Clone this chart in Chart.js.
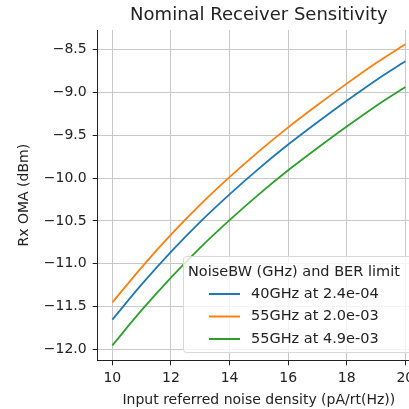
<!DOCTYPE html>
<html lang="en">
<head>
    <meta charset="UTF-8">
    <title>Nominal Receiver Sensitivity</title>
    <script src="https://cdn.jsdelivr.net/npm/chart.js"></script>
    <style>
        html, body { margin: 0; padding: 0; background: #fff; overflow: hidden; }
        #wrap { width: 432px; height: 409px; }
    </style>
</head>
<body>
    <div id="wrap"><canvas id="sens-chart"></canvas></div>

    <script>
        // noise density (pA/rt(Hz))
        const noiseDensity = [10, 11, 12, 13, 14, 15, 16, 17, 18, 19, 20];

        // Rx OMA (dBm)
        const oma40g24 = [-11.65, -11.24, -10.86, -10.51, -10.19, -9.89, -9.61, -9.35, -9.10, -8.86, -8.64];
        const oma55g20 = [-11.45, -11.04, -10.66, -10.31, -9.99, -9.69, -9.41, -9.15, -8.90, -8.66, -8.44];
        const oma55g49 = [-11.95, -11.54, -11.16, -10.81, -10.49, -10.19, -9.91, -9.65, -9.40, -9.16, -8.94];

        const seriesLabels = ['40GHz at 2.4e-04', '55GHz at 2.0e-03', '55GHz at 4.9e-03'];
        const seriesColors = ['#1f77b4', '#ff7f0e', '#2ca02c'];

        const xTicks = [10, 12, 14, 16, 18, 20];
        const yTicks = [-12.0, -11.5, -11.0, -10.5, -10.0, -9.5, -9.0, -8.5];

        const titleText = 'Nominal Receiver Sensitivity';
        const legendTitle = 'NoiseBW (GHz) and BER limit';

        const FONT = "'DejaVu Sans', sans-serif";

        function toPoints(ys) {
            return noiseDensity.map((x, i) => ({ x: x, y: ys[i] }));
        }

        // title + legend drawn over the plot like matplotlib does
        const mplExtras = {
            id: 'mplExtras',
            afterDraw(chart) {
                const ctx = chart.ctx;
                const area = chart.chartArea;
                ctx.save();

                ctx.fillStyle = '#222';
                ctx.font = '18px ' + FONT;
                ctx.textAlign = 'center';
                ctx.textBaseline = 'middle';
                ctx.fillText(titleText, (area.left + area.right) / 2, 15);

                // legend box, lower right
                const bx = 183, by = 256, bw = 260, bh = 96;
                ctx.fillStyle = 'rgba(255,255,255,0.8)';
                ctx.strokeStyle = '#d8d8d8';
                ctx.lineWidth = 1;
                ctx.beginPath();
                ctx.roundRect(bx + 0.5, by + 0.5, bw, bh, 3);
                ctx.fill();
                ctx.stroke();

                ctx.fillStyle = '#222';
                ctx.font = '14.5px ' + FONT;
                ctx.textAlign = 'left';
                ctx.fillText(legendTitle, 188, 272);

                chart.data.datasets.forEach((ds, i) => {
                    const y = 294 + i * 22.5;
                    ctx.strokeStyle = ds.borderColor;
                    ctx.lineWidth = 2;
                    ctx.beginPath();
                    ctx.moveTo(209, y);
                    ctx.lineTo(240, y);
                    ctx.stroke();
                    ctx.fillStyle = '#222';
                    ctx.fillText(ds.label, 251, y);
                });
                ctx.restore();
            }
        };

        const ctx = document.getElementById('sens-chart').getContext('2d');
        new Chart(ctx, {
            type: 'line',
            data: {
                datasets: [oma40g24, oma55g20, oma55g49].map((ys, i) => ({
                    label: seriesLabels[i],
                    data: toPoints(ys),
                    borderColor: seriesColors[i],
                    backgroundColor: seriesColors[i],
                    borderWidth: 1.8,
                    pointRadius: 0,
                    cubicInterpolationMode: 'monotone',
                    fill: false
                }))
            },
            options: {
                responsive: true,
                maintainAspectRatio: false,
                animation: false,
                layout: { padding: { top: 30, right: 12, left: 9, bottom: 0 } },
                plugins: {
                    legend: { display: false },
                    title: { display: false },
                    tooltip: { enabled: false }
                },
                scales: {
                    x: {
                        type: 'linear',
                        min: 9.5,
                        max: 20.5,
                        afterBuildTicks: (s) => { s.ticks = xTicks.map(v => ({ value: v })); },
                        grid: { color: '#c8c8c8', tickColor: '#222', tickLength: 5, lineWidth: 1 },
                        border: { color: '#222', width: 1 },
                        ticks: { color: '#222', font: { family: FONT, size: 14 }, padding: 5, maxRotation: 0 },
                        title: {
                            display: true,
                            text: 'Input referred noise density (pA/rt(Hz))',
                            color: '#222',
                            font: { family: FONT, size: 14 },
                            padding: { top: 0, bottom: 0 }
                        }
                    },
                    y: {
                        type: 'linear',
                        min: -12.125,
                        max: -8.275,
                        afterBuildTicks: (s) => { s.ticks = yTicks.map(v => ({ value: v })); },
                        grid: { color: '#c8c8c8', tickColor: '#222', tickLength: 5, lineWidth: 1 },
                        border: { color: '#222', width: 1 },
                        ticks: {
                            color: '#222',
                            font: { family: FONT, size: 14 },
                            padding: 6,
                            callback: (v) => (v < 0 ? '\u2212' : '') + Math.abs(v).toFixed(1)
                        },
                        title: {
                            display: true,
                            text: 'Rx OMA (dBm)',
                            color: '#222',
                            font: { family: FONT, size: 14 },
                            padding: { top: 7, bottom: 5 }
                        }
                    }
                }
            },
            plugins: [mplExtras]
        });
    </script>
</body>
</html>
